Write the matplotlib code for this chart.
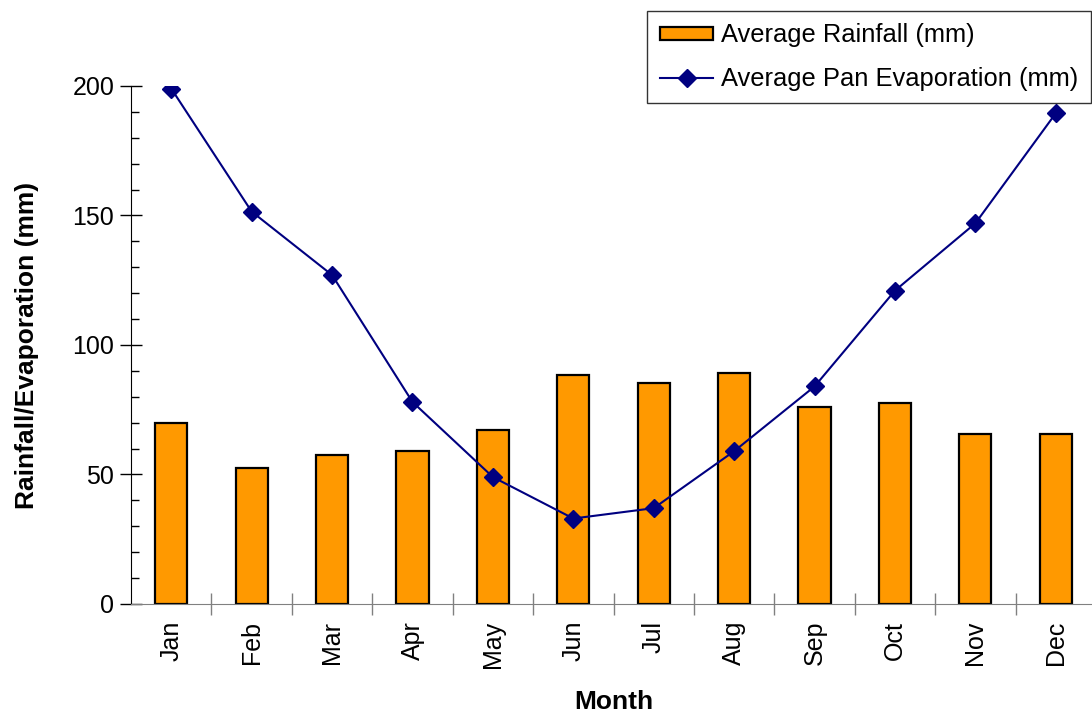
import matplotlib
matplotlib.use("Agg")
from matplotlib import pyplot as plt
from matplotlib.ticker import MultipleLocator, FixedLocator, NullFormatter
import numpy as np

plt.rcParams['font.family'] = ['Liberation Sans', 'DejaVu Sans']

months = ['Jan', 'Feb', 'Mar', 'Apr', 'May', 'Jun',
          'Jul', 'Aug', 'Sep', 'Oct', 'Nov', 'Dec']
rainfall = [70, 52.5, 57.5, 59, 67, 88.5, 85.5, 89, 76, 77.5, 65.5, 65.5]
evaporation = [199, 151.5, 127, 78, 49, 33, 37, 59, 84, 121, 147, 189.5]

fig = plt.figure(figsize=(10.92, 7.13), dpi=100)
ax = fig.add_axes([0.12, 0.1529, 0.8837, 0.7265])

x = np.arange(len(months))
bars = ax.bar(x, rainfall, width=0.4, color='#FF9900', edgecolor='black',
              linewidth=1.6, label='Average Rainfall (mm)', zorder=2)
line, = ax.plot(x, evaporation, color='#000080', linewidth=1.5, marker='D',
                markersize=9.5, label='Average Pan Evaporation (mm)',
                zorder=3)

ax.set_xlim(-0.5, 11.5)
ax.set_ylim(0, 200)

# y axis: labelled ticks every 50, small inner ticks every 10
ax.yaxis.set_major_locator(MultipleLocator(50))
ax.yaxis.set_minor_locator(MultipleLocator(10))
ax.tick_params(axis='y', which='major', direction='inout', length=16,
               width=1, labelsize=18, pad=4)
ax.tick_params(axis='y', which='minor', direction='in', length=6, width=1)

# x axis: tick marks between months, labels centred on bars
ax.set_xticks(x)
ax.set_xticklabels(months, rotation=90)
ax.xaxis.set_minor_locator(FixedLocator(np.arange(0.5, 11.5, 1)))
ax.xaxis.set_minor_formatter(NullFormatter())
ax.tick_params(axis='x', which='major', length=0, labelsize=18, pad=12)
ax.tick_params(axis='x', which='minor', direction='inout', length=16,
               width=1, color='#808080')

ax.spines['top'].set_visible(False)
ax.spines['right'].set_visible(False)
ax.spines['bottom'].set_color('#808080')
ax.spines['left'].set_color('black')

ax.set_xlabel('Month', fontsize=19, fontweight='bold', labelpad=16)
ax.set_ylabel('Rainfall/Evaporation (mm)', fontsize=19, fontweight='bold',
              labelpad=24)

leg = fig.legend([bars, line],
                 ['Average Rainfall (mm)', 'Average Pan Evaporation (mm)'],
                 loc='upper left', bbox_to_anchor=(0.5925, 0.985),
                 bbox_transform=fig.transFigure, fontsize=18.4,
                 frameon=True, fancybox=False, edgecolor='black',
                 handlelength=2.1, handleheight=0.45, handletextpad=0.3,
                 labelspacing=0.75, borderpad=0.5, borderaxespad=0)
leg.get_frame().set_linewidth(1)

fig.savefig('out.png', dpi=100)
